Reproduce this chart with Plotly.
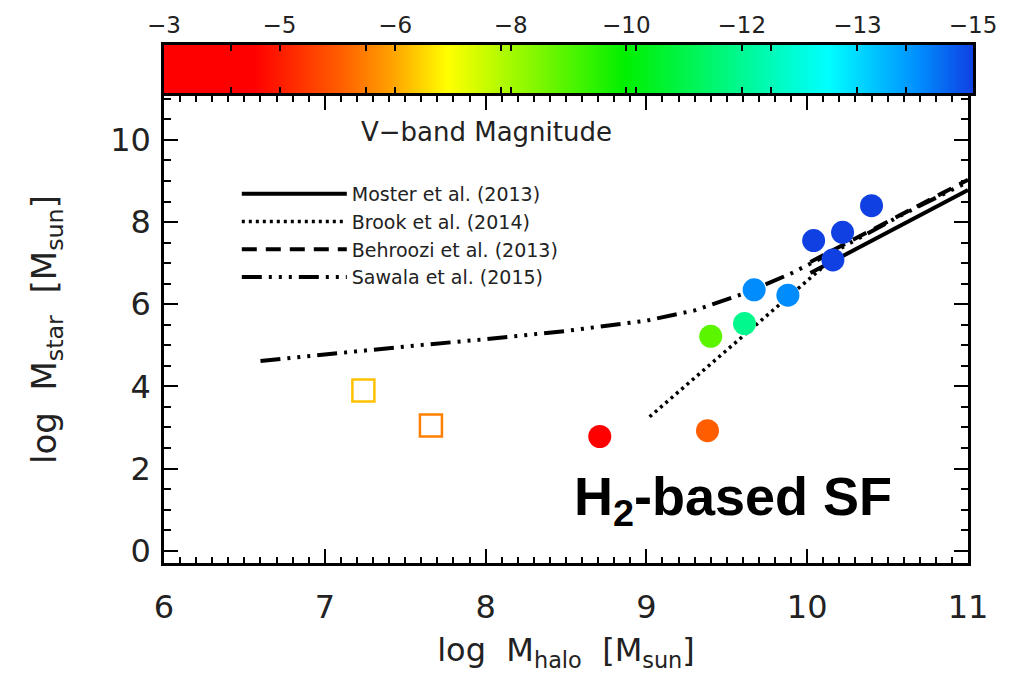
import plotly.graph_objects as go

# ---------------- data ----------------
# simulated dwarfs: log halo mass, log stellar mass, V-band magnitude
sq_mhalo = [7.24, 7.66]
sq_mstar = [3.90, 3.05]
sq_vmag = [-6.65, -6.0]

circ_mhalo = [8.71, 9.38, 9.40, 9.61, 9.67, 9.88, 10.04, 10.16, 10.22, 10.40]
circ_mstar = [2.78, 2.92, 5.22, 5.53, 6.35, 6.22, 7.55, 7.08, 7.75, 8.40]
circ_vmag = [-3.5, -5.6, -8.9, -11.5, -14.2, -14.2, -15.0, -15.0, -15.0, -15.0]

# abundance-matching relations
moster_x = [10.02, 11.0]
moster_y = [6.76, 8.78]
brook_x = [9.02, 10.2]
brook_y = [3.26, 7.25]
behroozi_x = [10.02, 11.0]
behroozi_y = [7.03, 9.03]
sawala_x = [6.6, 7.0, 7.5, 8.0, 8.5, 9.0, 9.3, 9.6, 9.9, 10.2, 10.6, 11.0]
sawala_y = [4.62, 4.78, 4.97, 5.15, 5.35, 5.60, 5.85, 6.25, 6.75, 7.35, 8.20, 8.98]

# colour bar scale (V-band magnitude)
cbar_vals = [-3.0, -4.714, -6.429, -8.143, -9.857, -11.571, -13.286, -15.0]
cbar_text = ["\u22123", "\u22125", "\u22126", "\u22128", "\u221210", "\u221212", "\u221213", "\u221215"]

colorscale = [
    [0.0, "#1040e2"],
    [0.07, "#0090ff"],
    [0.18, "#00ffff"],
    [0.43, "#00f000"],
    [0.65, "#ffff00"],
    [0.72, "#ffa000"],
    [0.78, "#ff6000"],
    [0.89, "#ff0000"],
    [1.0, "#ff0000"],
]
VMIN, VMAX = -15, -3
FONT = "DejaVu Sans"

fig = go.Figure()

# colour bar drawn as smooth heatmap on its own axes
fig.add_trace(go.Heatmap(
    x=cbar_vals, y=[0], z=[cbar_vals], zmin=VMIN, zmax=VMAX,
    colorscale=colorscale, zsmooth="best", showscale=False,
    xaxis="x2", yaxis="y2", hoverinfo="skip",
))

fig.add_trace(go.Scatter(
    x=moster_x, y=moster_y, mode="lines", name="Moster et al. (2013)",
    line=dict(color="black", width=4),
))
fig.add_trace(go.Scatter(
    x=brook_x, y=brook_y, mode="lines", name="Brook et al. (2014)",
    line=dict(color="black", width=3.5, dash="3px,4px"),
))
fig.add_trace(go.Scatter(
    x=behroozi_x, y=behroozi_y, mode="lines", name="Behroozi et al. (2013)",
    line=dict(color="black", width=4, dash="15px,9px"),
))
fig.add_trace(go.Scatter(
    x=sawala_x, y=sawala_y, mode="lines", name="Sawala et al. (2015)",
    line=dict(color="black", width=4, dash="20px,7px,3px,7px,3px,7px,3px,7px"),
))

fig.add_trace(go.Scatter(
    x=sq_mhalo, y=sq_mstar, mode="markers", showlegend=False,
    marker=dict(symbol="square-open", size=22, color=sq_vmag, colorscale=colorscale,
                cmin=VMIN, cmax=VMAX, line=dict(width=2.5)),
))
fig.add_trace(go.Scatter(
    x=circ_mhalo, y=circ_mstar, mode="markers", showlegend=False,
    marker=dict(symbol="circle", size=23, color=circ_vmag, colorscale=colorscale,
                cmin=VMIN, cmax=VMAX, line=dict(width=0)),
))

ax_common = dict(showgrid=False, zeroline=False, showline=True, linecolor="black",
                 linewidth=2.5, mirror="allticks", ticks="inside", tickcolor="black",
                 tickwidth=2, ticklen=14,
                 tickfont=dict(family=FONT, size=32, color="#222"))

fig.update_layout(
    width=1010, height=692,
    margin=dict(l=164, r=37, t=45, b=129),
    paper_bgcolor="white", plot_bgcolor="white",
    font=dict(family=FONT, color="#222"),
    xaxis=dict(**ax_common, range=[6, 11], domain=[0, 804 / 809], anchor="y",
               tickvals=[6, 7, 8, 9, 10, 11], ticklabelstandoff=14,
               minor=dict(dtick=0.1, ticklen=6, tickwidth=1.5, ticks="inside", tickcolor="black"),
               title=dict(text="log  M<sub>halo</sub>  [M<sub>sun</sub>]",
                          font=dict(family=FONT, size=32, color="#222"), standoff=14)),
    yaxis=dict(**ax_common, range=[-0.3, 11.07], domain=[0, 467 / 518], anchor="x",
               tickvals=[0, 2, 4, 6, 8, 10], ticklabelstandoff=4,
               minor=dict(dtick=0.5, ticklen=7, tickwidth=1.5, ticks="inside", tickcolor="black"),
               title=dict(text="log  M<sub>star</sub>  [M<sub>sun</sub>]",
                          font=dict(family=FONT, size=34, color="#222"), standoff=44)),
    xaxis2=dict(range=[-3, -15], domain=[0, 1], anchor="y2", side="top",
                showgrid=False, zeroline=False, showline=True, linecolor="black",
                linewidth=2.5, mirror="allticks", ticks="inside", tickcolor="black",
                tickwidth=1.5, ticklen=6, tickvals=cbar_vals, ticktext=cbar_text,
                tickfont=dict(family=FONT, size=23, color="#222"),
                minor=dict(ticks="inside", ticklen=6, tickwidth=1.5, tickcolor="black",
                           nticks=2)),
    yaxis2=dict(range=[-0.5, 0.5], domain=[470 / 518, 1], anchor="x2",
                showgrid=False, zeroline=False, showticklabels=False,
                showline=True, linecolor="black", linewidth=2.5, mirror=True, ticks=""),
    legend=dict(x=0.09, y=0.749, xanchor="left", yanchor="top",
                bgcolor="rgba(0,0,0,0)", borderwidth=0, itemwidth=105,
                font=dict(family=FONT, size=19, color="#222"), tracegroupgap=0),
    annotations=[
        dict(text="V\u2212band Magnitude", x=0.399, y=0.832, xref="paper", yref="paper",
             xanchor="center", yanchor="middle",
             showarrow=False, font=dict(family=FONT, size=26, color="#222")),
        dict(text="H<sub>2</sub>-based SF", x=0.703, y=0.122, xref="paper", yref="paper",
             xanchor="center", yanchor="middle",
             showarrow=False, font=dict(family="Liberation Sans", size=54, color="black"),
             ),
    ],
)
fig.layout.annotations[1].font.weight = "bold"

fig.write_html("out.html")
